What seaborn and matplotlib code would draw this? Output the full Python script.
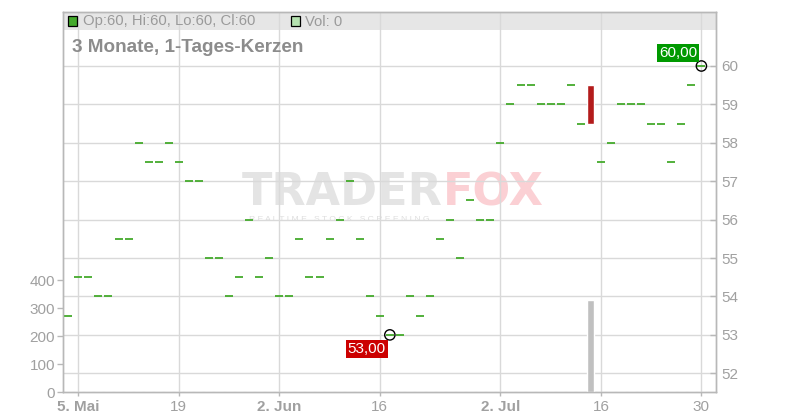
import numpy as np
import pandas as pd
import matplotlib
matplotlib.use("Agg")
import matplotlib.pyplot as plt
import seaborn as sns
from matplotlib.patches import Rectangle

# ---------------- data ----------------
dates = pd.bdate_range("2025-05-02", "2025-07-30")
close = [53.5, 54.5, 54.5, 54, 54, 55.5, 55.5, 58, 57.5, 57.5,
         58, 57.5, 57, 57, 55, 55, 54, 54.5, 56, 54.5,
         55, 54, 54, 55.5, 54.5, 54.5, 55.5, 56, 57, 55.5,
         54, 53.5, 53, 53, 54, 53.5, 54, 55.5, 56, 55,
         56.5, 56, 56, 58, 59, 59.5, 59.5, 59, 59, 59,
         59.5, 58.5, 58.5, 57.5, 58, 59, 59, 59, 58.5, 58.5,
         57.5, 58.5, 59.5, 60]
open_ = [53.5, 54.5, 54.5, 54, 54, 55.5, 55.5, 58, 57.5, 57.5,
         58, 57.5, 57, 57, 55, 55, 54, 54.5, 56, 54.5,
         55, 54, 54, 55.5, 54.5, 54.5, 55.5, 56, 57, 55.5,
         54, 53.5, 53, 53, 54, 53.5, 54, 55.5, 56, 55,
         56.5, 56, 56, 58, 59, 59.5, 59.5, 59, 59, 59,
         59.5, 58.5, 59.5, 57.5, 58, 59, 59, 59, 58.5, 58.5,
         57.5, 58.5, 59.5, 60]
volume = [0, 0, 0, 0, 0, 0, 0, 0, 0, 0,
          0, 0, 0, 0, 0, 0, 0, 0, 0, 0,
          0, 0, 0, 0, 0, 0, 0, 0, 0, 0,
          0, 0, 0, 0, 0, 0, 0, 0, 0, 0,
          0, 0, 0, 0, 0, 0, 0, 0, 0, 0,
          0, 0, 330, 0, 0, 0, 0, 0, 0, 0,
          0, 0, 0, 0]
tick_dates = ["2025-05-05", "2025-05-19", "2025-06-02", "2025-06-16",
              "2025-07-02", "2025-07-16", "2025-07-30"]
tick_labels = ["5. Mai", "19", "2. Jun", "16", "2. Jul", "16", "30"]
tick_bold = [True, False, True, False, True, False, False]
price_ticks = [52, 53, 54, 55, 56, 57, 58, 59, 60]
volume_ticks = [0, 100, 200, 300, 400]
title = "3 Monate, 1-Tages-Kerzen"
header_ohlc = "Op:60, Hi:60, Lo:60, Cl:60"
header_vol = "Vol: 0"
low_label = "53,00"
high_label = "60,00"

# ---------------- style ----------------
sns.set_theme(style="white")
plt.rcParams["font.family"] = ["Liberation Sans", "DejaVu Sans"]

GREEN = "#44aa2c"
RED = "#b31b1b"
GRID = "#d9d9d9"
SPINE = "#b8b8b8"
TXT = "#a0a0a0"

W, H = 800, 420
fig = plt.figure(figsize=(8, 4.2), dpi=100)
L, R, B, T = 63.3, 716, 392, 11.7
ax = fig.add_axes([L / W, 1 - B / H, (R - L) / W, (B - T) / H])
axv = ax.twinx()

df = pd.DataFrame({"date": dates, "open": open_, "close": close, "volume": volume})
df["x"] = np.arange(len(df))
x0 = int(np.where(df["date"] == pd.Timestamp("2025-05-05"))[0][0])

# volume bars (left axis), drawn on twin so they sit over the grid
axv.bar(df["x"], df["volume"], width=0.7, color="#c0c0c0", zorder=2)

# flat candles (doji) as dashes
doji = df[df["open"] == df["close"]]
sns.scatterplot(data=doji, x="x", y="close", marker="_", s=26, linewidth=1.3,
                color=GREEN, ax=ax, zorder=3, legend=False)
# real candle bodies
body = df[df["open"] != df["close"]]
ax.bar(body["x"], body["open"] - body["close"], bottom=body["close"], width=0.7,
       color=[RED if o > c else GREEN for o, c in zip(body["open"], body["close"])],
       zorder=3)

# min / max markers
imin = int(df["close"].idxmin())
imax = int(df["close"].idxmax())
ax.scatter([df["x"][imin], df["x"][imax]], [df["close"][imin], df["close"][imax]],
           s=55, facecolors="none", edgecolors="black", linewidths=1.0, zorder=5)
ax.annotate(low_label, (df["x"][imin], df["close"][imin]), xytext=(-4, -7),
            textcoords="offset pixels", ha="right", va="top", fontsize=11,
            color="white", zorder=6,
            bbox=dict(boxstyle="square,pad=0.12", fc="#cc0000", ec="none"))
ax.annotate(high_label, (df["x"][imax], df["close"][imax]), xytext=(-4, 6),
            textcoords="offset pixels", ha="right", va="bottom", fontsize=11,
            color="white", zorder=6,
            bbox=dict(boxstyle="square,pad=0.12", fc="#009900", ec="none"))

# axes limits
px_per_day = 10.05
ax.set_xlim(x0 - (78.3 - L) / px_per_day, x0 + (R - 78.3) / px_per_day)
ax.set_ylim(52 - (B - 373.3) / 38.42, 60 + (66 - T) / 38.42)
axv.set_ylim(0, (B - T) / 111.7 * 400)

# ticks
tick_pos = [int(np.where(df["date"] == pd.Timestamp(d))[0][0]) for d in tick_dates]
ax.set_xticks(tick_pos)
ax.set_xticklabels(tick_labels)
for lab, b in zip(ax.get_xticklabels(), tick_bold):
    lab.set_fontweight("bold" if b else "normal")
ax.set_yticks(price_ticks)
ax.set_yticklabels([str(p) for p in price_ticks])
ax.yaxis.tick_right()
axv.set_yticks(volume_ticks)
axv.set_yticklabels([str(v) for v in volume_ticks])
axv.yaxis.tick_left()
axv.set_xlim(ax.get_xlim())

ax.tick_params(axis="x", direction="out", length=3, width=1, color=SPINE,
               labelsize=11, labelcolor=TXT, pad=3, bottom=True)
ax.tick_params(axis="y", direction="in", length=4, width=1, color=SPINE,
               labelsize=11, labelcolor=TXT, pad=4, right=True, left=False)
axv.tick_params(axis="y", direction="out", length=4, width=1, color=SPINE,
                labelsize=11, labelcolor=TXT, pad=2, left=True, right=False)
ax.set_xlabel("")
ax.set_ylabel("")
axv.set_ylabel("")

ax.set_axisbelow(True)
ax.grid(True, color=GRID, linewidth=1)
axv.grid(False)
for a in (ax, axv):
    for s in a.spines.values():
        s.set_color(SPINE)
        s.set_linewidth(1)

# header band
band_h = (30 - T) / (B - T)
ax.add_patch(Rectangle((0, 1 - band_h), 1, band_h, transform=ax.transAxes,
                       facecolor="#e6e6e6", edgecolor="none", zorder=0.3))


def fx(px):
    return px / W


def fy(py):
    return 1 - py / H


fig.patches.append(Rectangle((fx(68), fy(26)), 9 / W, 10 / H, transform=fig.transFigure,
                             facecolor=GREEN, edgecolor="black", linewidth=0.9, zorder=10))
fig.patches.append(Rectangle((fx(291), fy(26)), 9 / W, 10 / H, transform=fig.transFigure,
                             facecolor="#b5e2b0", edgecolor="black", linewidth=0.9, zorder=10))
fig.text(fx(83), fy(21.5), header_ohlc, fontsize=10.7, color="#9a9a9a", va="center", ha="left")
fig.text(fx(305), fy(21.5), header_vol, fontsize=10.7, color="#9a9a9a", va="center", ha="left")
fig.text(fx(72.5), fy(48), title, fontsize=13.6, color="#8c8c8c", fontweight="bold",
         va="center", ha="left")

# watermark
ax.text(fx(443), fy(193), "TRADER", transform=fig.transFigure, fontsize=32,
        fontweight="bold", color="#e4e4e4", ha="right", va="center",
        family="DejaVu Sans", zorder=0.4, clip_on=False)
ax.text(fx(443), fy(193), "FOX", transform=fig.transFigure, fontsize=32,
        fontweight="bold", color="#fbd0d4", ha="left", va="center",
        family="DejaVu Sans", zorder=0.4, clip_on=False)
ax.text(fx(339), fy(219), " ".join("REALTIME STOCK SCREENING"), transform=fig.transFigure,
        fontsize=6.1, color="#dedede", ha="center", va="center", zorder=0.4,
        clip_on=False)

fig.savefig("out.png", dpi=100)
